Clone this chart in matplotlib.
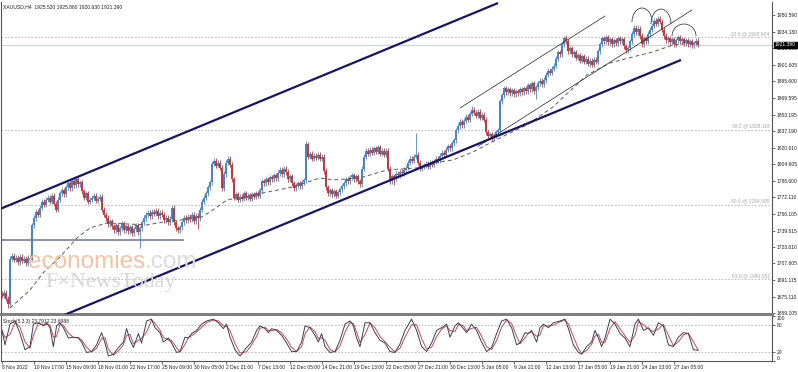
import matplotlib
matplotlib.use('Agg')
import matplotlib.pyplot as plt
from matplotlib.patches import Arc
import matplotlib.transforms as mtrans
import numpy as np
import pandas as pd

# ---------------- data ----------------
first_open = 1678
closes = [
    1676, 1679, 1673, 1668,
    1712,
    1715, 1711, 1713, 1709, 1714, 1710,
    1712, 1708, 1713, 1711,
    1745,
    1752, 1758, 1755, 1762, 1768, 1765,
    1770, 1772, 1768, 1774, 1766, 1760,
    1770, 1776, 1779, 1775, 1782, 1786,
    1781, 1788, 1784, 1790, 1785, 1787,
    1778, 1772, 1776, 1768, 1770, 1772,
    1774, 1769, 1771, 1773, 1760, 1755,
    1752, 1746, 1749, 1744, 1740, 1745,
    1738, 1742, 1747, 1740, 1744, 1739,
    1743, 1737, 1741, 1745, 1738, 1742,
    1748, 1752, 1755, 1757, 1754, 1758,
    1756, 1759, 1754, 1757, 1755, 1750,
    1752, 1748, 1751, 1762, 1748, 1742,
    1740, 1743, 1748, 1752, 1750, 1753,
    1751, 1755, 1749, 1754, 1752, 1760,
    1768, 1772, 1776, 1782, 1787, 1805,
    1808, 1803, 1806, 1801, 1781, 1795,
    1806, 1810, 1804, 1790, 1772, 1775,
    1770, 1773, 1771, 1776, 1772, 1774,
    1771, 1775, 1773, 1776, 1774, 1779,
    1788, 1786, 1790, 1787, 1792, 1790,
    1794, 1791, 1796, 1799, 1795, 1800,
    1797, 1790, 1793, 1786, 1781,
    1784, 1786, 1783, 1787, 1789,
    1824,
    1812, 1815, 1810, 1813, 1811, 1814, 1810, 1812,
    1798, 1782, 1776,
    1779, 1775, 1778, 1774, 1777, 1780,
    1783, 1786, 1790, 1788, 1792, 1794, 1790, 1793,
    1788, 1785,
    1800, 1812, 1818,
    1815, 1819, 1816, 1820, 1817, 1821, 1815, 1818, 1814, 1818,
    1800, 1788,
    1793, 1791, 1795, 1794, 1797, 1796, 1799, 1801,
    1806, 1810, 1808, 1812,
    1814, 1806, 1800, 1802,
    1803, 1805, 1802, 1806, 1804,
    1807, 1810, 1808, 1813, 1816, 1814, 1819, 1822, 1820, 1825, 1828,
    1838, 1842, 1846, 1843,
    1847, 1851, 1848, 1854, 1858,
    1855, 1852, 1856, 1850, 1853, 1848,
    1836, 1832,
    1834, 1830, 1833, 1836, 1838,
    1866,
    1872, 1879, 1875, 1878, 1874,
    1877, 1873, 1876, 1874, 1878, 1875, 1879, 1876,
    1882, 1878, 1884, 1876, 1880,
    1884, 1886, 1883, 1887,
    1892, 1896, 1894, 1898, 1901,
    1908, 1914, 1912,
    1922, 1928, 1925,
    1915, 1918, 1912, 1914, 1909, 1911, 1906, 1910, 1905, 1908, 1903, 1906, 1902,
    1907, 1905, 1915, 1922, 1928,
    1925, 1929, 1924, 1927, 1922, 1926, 1923, 1928, 1925, 1927,
    1920, 1916, 1918,
    1925, 1932, 1938, 1934, 1937,
    1930, 1922, 1928, 1925,
    1932, 1936, 1940, 1945,
    1942, 1947, 1944,
    1936, 1930, 1926, 1928,
    1924, 1927, 1922, 1926, 1929, 1925, 1927, 1923, 1926, 1922, 1925, 1921,
    1923, 1925.52, 1921.39,
]
wick = 2.5
long_highs = {152: 1827, 207: 1835, 235: 1862, 282: 1931, 329: 1950, 318: 1940}
long_lows = {3: 1664, 69: 1723, 98: 1741, 110: 1778, 196: 1784, 267: 1868, 294: 1900}

# moving average (read as a line)
ma_at = [4, 14, 20.5, 29, 37.5, 44, 52.5, 72.5, 80.5, 89, 99, 105.5, 112.5, 120.5,
         130.5, 145.5, 159, 165.5, 179, 192.5, 207.5, 215.5, 225.5, 235.5, 244, 254,
         262.5, 275.5, 292.5, 304, 315.5, 325.5, 335.5, 348]
ma_val = [1664, 1681.6, 1698.2, 1713.9, 1732.5, 1742.3, 1747.2, 1745.2, 1748.1, 1750.1,
          1752.1, 1759.9, 1769.7, 1772.6, 1776.5, 1782.4, 1791.2, 1789.2, 1791.2, 1799.0,
          1801.0, 1805.9, 1808.8, 1816.6, 1825.4, 1835.2, 1843.1, 1860.7, 1891.9, 1903.7,
          1909.6, 1914.5, 1921.3, 1923.5]

# stochastic %K (read as a line)
stoch_at = [0, 1.5, 4, 6.5, 9, 11.5, 14, 15.7, 18.2, 20.7, 22.3, 24, 25.7, 27.3, 29, 30.7,
            33.2, 35.7, 38.2, 39.8, 42.3, 44.8, 47.3, 49.8, 51.5, 53.2, 55.7, 58.2, 60.7,
            62.3, 64, 65.7, 68.2, 69.8, 72.3, 74.8, 76.5, 79, 80.7, 83.2, 84.8, 87.3, 89,
            91.5, 93.2, 94.8, 97.3, 99.8, 102.3, 105.7, 108.2, 110.7, 112.3, 114, 116.5,
            119, 122.3, 124.8, 127.3, 129, 131.5, 133.2, 134.8, 137.3, 139.8, 142.3, 144.8,
            147.3, 149.8, 151.5, 154, 156.5, 158.2, 159.8, 161.5, 164, 166.5, 169, 171.5,
            174, 175.7, 177.3, 179, 181.5, 184, 186.5, 189, 191.5, 194, 196.5, 199,
            201.5, 204.8, 207.3, 209.8, 212.3, 214.8, 217.3, 219.8, 222.3, 224, 226.5,
            228.2, 230.7, 232.3, 234.8, 237.3, 239.8, 242.3, 244.8, 247.3, 249.8, 252.3,
            254.8, 257.3, 259, 261.5, 263.2, 264.8, 267.3, 269, 270.7, 273.2, 275.7, 279,
            281.5, 283.2, 285.7, 288.2, 289.8, 292.3, 294.8, 296.5, 298.2, 299.8, 301.5,
            304, 306.5, 309, 311.5, 314, 316.5, 318.2, 320.7, 323.2, 325.7, 328.2, 330.7,
            333.2, 335.7, 338.2, 340.7, 343.2, 345.7, 348]
stoch_k = [68, 36, 82, 89, 61, 25, 32, 82, 85, 78, 85, 74, 32, 78, 85, 74,
           51, 53, 51, 42, 19, 21, 36, 63, 40, 11, 15, 30, 42,
           72, 46, 30, 61, 40, 89, 93, 74, 63, 42, 51, 40, 19, 21,
           53, 51, 61, 68, 82, 89, 93, 85, 72, 82, 53, 25,
           11, 30, 42, 68, 78, 72, 63, 72, 68, 57, 40, 21,
           21, 42, 78, 74, 57, 42, 61, 32, 19, 21, 46, 82,
           89, 78, 51, 32, 85, 85, 63, 46, 40, 21, 19, 38,
           68, 93, 68, 32, 21, 40, 68, 74, 82, 53, 78,
           85, 72, 63, 82, 68, 42, 21, 30, 61, 89, 93,
           74, 36, 40, 63, 61, 68, 42, 74, 82, 74, 85, 89,
           93, 72, 36, 19, 15, 32, 42, 68, 51, 32, 51,
           93, 82, 61, 51, 32, 82, 93, 68, 74, 57, 85, 78,
           36, 32, 53, 63, 61, 25, 23.79]

ytick_vals = [1950.590, 1934.180, 1918.090, 1901.605, 1885.600, 1869.595, 1853.195,
              1837.190, 1820.610, 1804.605, 1788.600, 1772.110, 1756.105, 1739.615,
              1723.610, 1707.605, 1691.115, 1675.110, 1659.105]
fib_levels = [1928.604, 1838.118, 1764.985, 1691.852]
fib_names = ["23.6", "38.2", "50.0", "61.8"]
xlabels = ["8 Nov 2022", "10 Nov 17:00", "15 Nov 09:00", "18 Nov 01:00", "22 Nov 17:00",
           "25 Nov 09:00", "30 Nov 05:00", "2 Dec 21:00", "7 Dec 13:00", "12 Dec 05:00",
           "14 Dec 21:00", "19 Dec 13:00", "22 Dec 05:00", "27 Dec 21:00", "30 Dec 13:00",
           "5 Jan 05:00", "9 Jan 21:00", "12 Jan 13:00", "17 Jan 05:00", "19 Jan 21:00",
           "24 Jan 13:00", "27 Jan 05:00"]
bars_per_label = 16
last_price = 1921.39
header = "XAUUSD,H4  1925.520 1925.860 1920.630 1921.390"
stoch_title = "Stoch(5,3,3) 23.7912 23.6988"

# drawn objects (bar, price)
channel_upper = [(-1, 1760.8), (248, 1962.3)]
channel_lower = [(30, 1656.2), (339.5, 1906.6)]
thin_upper = [(229, 1859.6), (301.5, 1949.6)]
thin_lower = [(238, 1822.0), (345, 1955.5)]
support_h = [(-1, 1730.5), (90.5, 1730.5)]
arcs = [(320, 1943.7, 10, 27.4), (329.5, 1941.7, 10, 29.3), (341, 1930.0, 12, 23.5)]

# ---------------- figure ----------------
W, H = 798, 372
plt.rcParams['font.family'] = ['Liberation Sans', 'DejaVu Sans']
fig = plt.figure(figsize=(W / 100, H / 100), dpi=100)
fig.patch.set_facecolor('white')

def rect(l, t, r, b):
    return [l / W, 1 - b / H, (r - l) / W, (b - t) / H]

ax = fig.add_axes(rect(1, 2, 772, 314))
axs = fig.add_axes(rect(1, 316, 772, 361), sharex=ax)

bull, bear = '#4a86b8', '#c23b3b'
c = np.array(closes, float)
o = np.r_[first_open, c[:-1]]
idx = np.arange(len(c))
hi = np.maximum(o, c) + wick
lo = np.minimum(o, c) - wick
for b, p in long_highs.items():
    hi[b] = p
for b, p in long_lows.items():
    lo[b] = p
up = c >= o
cols = np.where(up, bull, bear)
ax.vlines(idx, lo, hi, colors=cols, lw=0.6, zorder=3)
ax.bar(idx, np.maximum(np.abs(c - o), 0.7), bottom=np.minimum(o, c), width=0.8,
       color=cols, lw=0, zorder=4)

ax.plot(ma_at, ma_val, color='#6b5555', lw=0.7, ls=(0, (4, 3)), zorder=5)

for (x0, y0), (x1, y1) in [channel_upper, channel_lower]:
    ax.plot([x0, x1], [y0, y1], color='#14146b', lw=1.6, zorder=6, solid_capstyle='butt')
for (x0, y0), (x1, y1) in [thin_upper, thin_lower]:
    ax.plot([x0, x1], [y0, y1], color='#222222', lw=0.5, zorder=6)
ax.plot([support_h[0][0], support_h[1][0]], [support_h[0][1], support_h[1][1]],
        color='#8c90a8', lw=1.4, zorder=2)
for cx, cy, w, h in arcs:
    ax.add_patch(Arc((cx, cy), w, h, theta1=0, theta2=180, color='#444444', lw=0.6, zorder=6))

# fib levels
blend = mtrans.blended_transform_factory(ax.transAxes, ax.transData)
for lv, nm in zip(fib_levels, fib_names):
    ax.axhline(lv, color='#b4b4b4', lw=0.6, ls=(0, (2, 2)), zorder=1)
    ax.text(0.997, lv + 1.2, f"{nm} @ {lv:.3f}", transform=blend,
            ha='right', va='bottom', fontsize=3.6, color='#a8a8a8')
ax.axhline(last_price, color='#c8dada', lw=0.9, zorder=1)

# watermark
ax.text(0.035, 0.147, "economies", transform=ax.transAxes, fontsize=17.5, color='#f5c3a3',
        ha='left', va='baseline', zorder=7, family='Liberation Sans')
ax.text(0.187, 0.147, ".com", transform=ax.transAxes, fontsize=17.5, color='#dcdcdc',
        ha='left', va='baseline', zorder=7, family='Liberation Sans')
ax.text(0.058, 0.085, "F\u00d7NewsToday", transform=ax.transAxes, fontsize=16, color='#d6d6d6',
        ha='left', va='baseline', zorder=7, family='Liberation Serif')

ax.set_ylim(1658.1, 1963.3)
ax.set_xlim(-0.5, 385)
ax.yaxis.tick_right()
ax.set_yticks(ytick_vals)
ax.set_yticklabels([f"{v:.3f}" for v in ytick_vals])
ax.tick_params(axis='y', direction='out', length=2, width=0.5, pad=1.2, labelsize=3.6,
               colors='#333333', labelcolor='#222222')
ax.tick_params(axis='x', bottom=False, labelbottom=False)
ax.spines['top'].set_visible(False)
ax.spines['left'].set_color('#555555'); ax.spines['left'].set_linewidth(0.8)
ax.spines['right'].set_color('#555555'); ax.spines['right'].set_linewidth(0.8)
ax.spines['bottom'].set_color('#808080'); ax.spines['bottom'].set_linewidth(2.2)

ax.text(0.002, 0.993, header, transform=ax.transAxes, ha='left', va='top', fontsize=3.6, color='#222222')

ax.text(1.004, last_price, f"{last_price:.3f}", transform=blend, ha='left', va='center', fontsize=3.6,
        color='white', zorder=10, clip_on=False,
        bbox=dict(boxstyle='square,pad=0.15', fc='black', ec='black'))

# stochastic
sk = pd.Series(stoch_k, dtype=float)
sd = sk.rolling(2, min_periods=1).mean()
axs.plot(stoch_at, sd, color='#d04848', lw=0.7, zorder=3)
axs.plot(stoch_at, sk, color='#3a3f5c', lw=0.7, zorder=4)
for lvl in (20, 80):
    axs.axhline(lvl, color='#b4b4b4', lw=0.6, ls=(0, (2, 2)), zorder=1)
axs.set_ylim(0, 100)
axs.yaxis.tick_right()
axs.set_yticks([100, 80, 20, 0])
axs.set_yticklabels(['100', '80', '20', '0'])
axs.tick_params(axis='y', direction='out', length=2, width=0.5, pad=1.2, labelsize=3.6,
                colors='#333333', labelcolor='#222222')
ylabs = axs.get_yticklabels()
ylabs[0].set_va('top'); ylabs[3].set_va('bottom')
axs.text(0.003, 0.93, stoch_title, transform=axs.transAxes, ha='left', va='top', fontsize=3.6, color='#222222')
axs.spines['top'].set_visible(False)
for s in ['left', 'right', 'bottom']:
    axs.spines[s].set_color('#555555'); axs.spines[s].set_linewidth(0.8)

xt = [bars_per_label * k for k in range(len(xlabels))]
axs.set_xticks(xt)
axs.set_xticklabels(xlabels)
axs.tick_params(axis='x', direction='out', length=2, width=0.5, pad=0.8, labelsize=3.6,
                colors='#333333', labelcolor='#222222')
for t in axs.get_xticklabels():
    t.set_ha('left')

fig.savefig('out.png', dpi=100, facecolor='white')
